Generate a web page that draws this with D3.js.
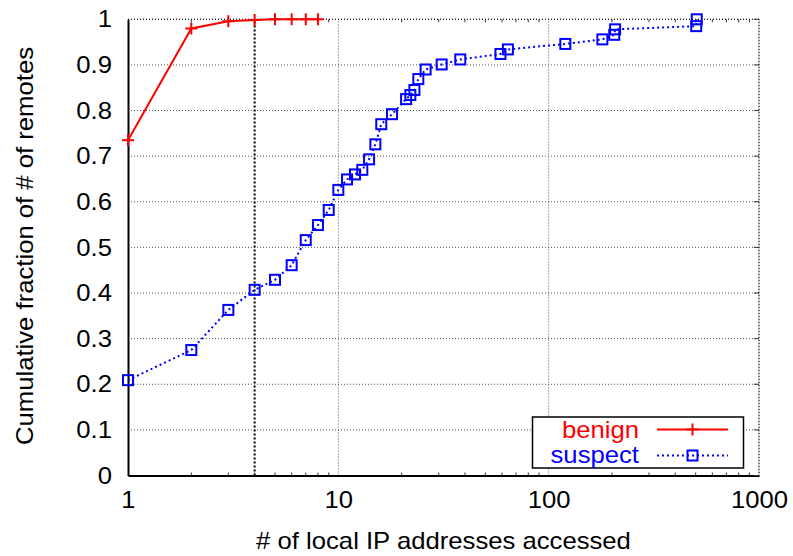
<!DOCTYPE html>
<html>
<head>
<meta charset="utf-8">
<script src="https://cdn.jsdelivr.net/npm/d3@7"></script>
<style>
  html, body { margin: 0; padding: 0; background: #fff; }
  svg { display: block; }
  text { font-family: "Liberation Sans", Arial, Helvetica, sans-serif; }
</style>
</head>
<body>
<svg id="chart" width="793" height="556"></svg>
<script>
// Number of local IP addresses accessed per remote host (log scale) and the CDF
const benignX = [1, 2, 3, 4, 5, 6, 7, 8];
const benignY = [0.735, 0.980, 0.9955, 0.9985, 1.0, 1.0, 1.0, 1.0];

const suspectX = [1, 2, 3, 4, 5, 6, 7, 8, 9, 10, 11, 12, 13, 14, 15, 16, 18, 21, 22, 23, 24, 26,
                  31, 38, 59, 64, 120, 180, 205, 207, 503, 506];
const suspectY = [0.209, 0.275, 0.363, 0.407, 0.429, 0.461, 0.516, 0.549, 0.582, 0.626, 0.649,
                  0.660, 0.670, 0.693, 0.726, 0.770, 0.792, 0.825, 0.834, 0.845, 0.869, 0.890,
                  0.901, 0.912, 0.924, 0.934, 0.946, 0.956, 0.966, 0.978, 0.985, 1.0];

const xTickValues = [1, 10, 100, 1000];
const yTickValues = [0, 0.1, 0.2, 0.3, 0.4, 0.5, 0.6, 0.7, 0.8, 0.9, 1];
const markerLineX = 4;

const seriesNames = ["benign", "suspect"];
const xTitle = "# of local IP addresses accessed";
const yTitle = "Cumulative fraction of # of remotes";

const svg = d3.select("#chart");
const plotLeft = 128, plotRight = 759, plotTop = 19.3, plotBottom = 475.5;

const x = d3.scaleLog().domain([1, 1000]).range([plotLeft, plotRight]);
const y = d3.scaleLinear().domain([0, 1]).range([plotBottom, plotTop]);

const FONT = 24;
const SX = 1.07; // glyphs are drawn slightly wide

// widen a text element horizontally about its own anchor
function widen(sel) {
  sel.each(function () {
    const t = d3.select(this);
    const tx = +t.attr("x") || 0;
    t.attr("x", tx / SX).attr("transform", `scale(${SX},1)`);
  });
}

// grid: horizontal lines
const grid = svg.append("g");
grid.selectAll("line.h").data(yTickValues.filter(v => v > 0)).join("line")
  .attr("x1", plotLeft).attr("x2", plotRight)
  .attr("y1", d => y(d)).attr("y2", d => y(d))
  .attr("stroke", "#555").attr("stroke-width", 1).attr("stroke-dasharray", "1,2");
// grid: vertical lines at decades
grid.selectAll("line.v").data(xTickValues.filter(v => v > 1)).join("line")
  .attr("x1", d => x(d)).attr("x2", d => x(d))
  .attr("y1", plotBottom).attr("y2", plotTop)
  .attr("stroke", "#555").attr("stroke-width", 1).attr("stroke-dasharray", "1,2");

// reference line at x = 4
svg.append("line")
  .attr("x1", x(markerLineX)).attr("x2", x(markerLineX))
  .attr("y1", plotBottom).attr("y2", plotTop)
  .attr("stroke", "#000").attr("stroke-width", 2).attr("stroke-dasharray", "2,2");

// axes (bottom and left solid; mirrored ticks on top and right)
const minorTicks = [];
for (let d = 1; d < 1000; d *= 10) for (let k = 2; k <= 9; k++) minorTicks.push(d * k);

const xAxis = d3.axisBottom(x).tickValues(xTickValues).tickFormat(d3.format("d"))
  .tickSize(0).tickPadding(15);
const gx = svg.append("g").attr("transform", `translate(0,${plotBottom})`).call(xAxis);
gx.select(".domain").attr("stroke", "#000").attr("stroke-width", 2);
gx.selectAll("text").attr("font-size", FONT).attr("fill", "#000")
  .attr("font-family", "Liberation Sans, Arial, sans-serif").call(widen);

const yAxis = d3.axisLeft(y).tickValues(yTickValues).tickFormat(d => String(+d.toFixed(1)))
  .tickSize(0).tickPadding(16);
const gy = svg.append("g").attr("transform", `translate(${plotLeft},0)`).call(yAxis);
gy.select(".domain").attr("stroke", "#000").attr("stroke-width", 2);
gy.selectAll("text").attr("font-size", FONT).attr("fill", "#000")
  .attr("font-family", "Liberation Sans, Arial, sans-serif").call(widen);

// top and right borders drawn dotted
svg.append("line").attr("x1", plotLeft).attr("x2", plotRight).attr("y1", plotTop).attr("y2", plotTop)
  .attr("stroke", "#000").attr("stroke-width", 1).attr("stroke-dasharray", "1,2");
svg.append("line").attr("x1", plotRight).attr("x2", plotRight).attr("y1", plotTop).attr("y2", plotBottom)
  .attr("stroke", "#000").attr("stroke-width", 1.2).attr("stroke-dasharray", "1,2");

// minor x ticks (bottom up, top down) and right-side y ticks
const ticks = svg.append("g").attr("stroke", "#333").attr("stroke-width", 1);
ticks.selectAll("line.mb").data(minorTicks).join("line")
  .attr("x1", d => x(d)).attr("x2", d => x(d)).attr("y1", plotBottom).attr("y2", plotBottom - 3);
ticks.selectAll("line.mt").data(minorTicks).join("line")
  .attr("x1", d => x(d)).attr("x2", d => x(d)).attr("y1", plotTop).attr("y2", plotTop + 3);
ticks.selectAll("line.ry").data(yTickValues).join("line")
  .attr("x1", plotRight).attr("x2", plotRight - 5).attr("y1", d => y(d)).attr("y2", d => y(d));

// axis titles
svg.append("text")
  .attr("transform", `translate(${(plotLeft + plotRight) / 2},549) scale(${SX},1)`)
  .attr("text-anchor", "middle").attr("font-size", FONT).text(xTitle);
svg.append("text")
  .attr("transform", `translate(33,246) rotate(-90) scale(${SX},1)`)
  .attr("text-anchor", "middle").attr("font-size", FONT).text(yTitle);

// series
const benign = benignX.map((v, i) => [v, benignY[i]]);
const suspect = suspectX.map((v, i) => [v, suspectY[i]]);
const line = d3.line().x(d => x(d[0])).y(d => y(d[1]));

const RED = "#ff0000", BLUE = "#0000ff";

svg.append("path").datum(benign).attr("d", line)
  .attr("fill", "none").attr("stroke", RED).attr("stroke-width", 2);
svg.append("path").datum(suspect).attr("d", line)
  .attr("fill", "none").attr("stroke", BLUE).attr("stroke-width", 2).attr("stroke-dasharray", "2,3");

function plus(g, cx, cy, color) {
  g.append("path").attr("d", `M${cx - 6},${cy}H${cx + 6}M${cx},${cy - 6}V${cy + 6}`)
    .attr("stroke", color).attr("stroke-width", 2).attr("fill", "none");
}
function square(g, cx, cy, color) {
  g.append("rect").attr("x", cx - 5).attr("y", cy - 5).attr("width", 10).attr("height", 10)
    .attr("stroke", color).attr("stroke-width", 2).attr("fill", "none");
}
const mk = svg.append("g");
benign.forEach(d => plus(mk, x(d[0]), y(d[1]), RED));
suspect.forEach(d => square(mk, x(d[0]), y(d[1]), BLUE));

// legend
const lg = svg.append("g");
lg.append("rect").attr("x", 532.5).attr("y", 417).attr("width", 211).attr("height", 51)
  .attr("fill", "#fff").attr("stroke", "#000").attr("stroke-width", 1.5);
lg.append("text").attr("x", 639).attr("y", 438).attr("text-anchor", "end")
  .attr("font-size", FONT).attr("fill", RED).text(seriesNames[0]).call(widen);
lg.append("text").attr("x", 639).attr("y", 463).attr("text-anchor", "end")
  .attr("font-size", FONT).attr("fill", BLUE).text(seriesNames[1]).call(widen);
lg.append("line").attr("x1", 657).attr("x2", 728).attr("y1", 429.5).attr("y2", 429.5)
  .attr("stroke", RED).attr("stroke-width", 2);
plus(lg, 692.5, 429.5, RED);
lg.append("line").attr("x1", 657).attr("x2", 728).attr("y1", 455.5).attr("y2", 455.5)
  .attr("stroke", BLUE).attr("stroke-width", 2).attr("stroke-dasharray", "2,3");
square(lg, 692.5, 455.5, BLUE);
</script>
</body>
</html>
